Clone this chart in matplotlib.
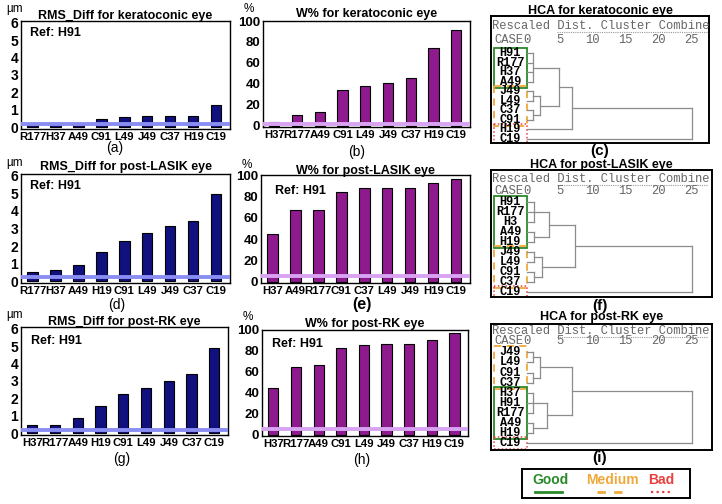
import matplotlib
matplotlib.use('Agg')
import matplotlib.pyplot as plt
from matplotlib.patches import Rectangle

plt.rcParams['font.family'] = ['Liberation Sans', 'DejaVu Sans']

# ---- bar chart data ----
rms_kc_labels = ['R177', 'H37', 'A49', 'C91', 'L49', 'J49', 'C37', 'H19', 'C19']
rms_kc_values = [0.15, 0.17, 0.17, 0.45, 0.57, 0.62, 0.62, 0.67, 1.25]
rms_kc_ref = 0.2

w_kc_labels = ['H37', 'R177', 'A49', 'C91', 'L49', 'J49', 'C37', 'H19', 'C19']
w_kc_values = [3.7, 10.2, 13.6, 34.7, 37.8, 40.9, 46.1, 74.3, 91.6]
w_kc_ref = 2.3

rms_lasik_labels = ['R177', 'H37', 'A49', 'H19', 'C91', 'L49', 'J49', 'C37', 'C19']
rms_lasik_values = [0.5, 0.62, 0.9, 1.67, 2.31, 2.72, 3.13, 3.43, 4.99]
rms_lasik_ref = 0.24

w_lasik_labels = ['H37', 'A49', 'R177', 'C91', 'C37', 'L49', 'J49', 'H19', 'C19']
w_lasik_values = [45.2, 67.7, 67.7, 83.7, 88.0, 88.0, 88.0, 92.3, 96.6]
w_lasik_ref = 6.0

rms_rk_labels = ['H37', 'R177', 'A49', 'H19', 'C91', 'L49', 'J49', 'C37', 'C19']
rms_rk_values = [0.5, 0.5, 0.86, 1.58, 2.25, 2.61, 3.0, 3.43, 4.88]
rms_rk_ref = 0.19

w_rk_labels = ['H37', 'R177', 'A49', 'C91', 'L49', 'J49', 'C37', 'H19', 'C19']
w_rk_values = [44.7, 65.2, 66.5, 82.6, 85.4, 86.6, 86.6, 90.7, 97.5]
w_rk_ref = 6.0

# ---- HCA trees: (children, rescaled distance) ----
tree_kc = ([([([(['H91', 'R177', 'H37', 'A49'], 0.9),
                ([(['J49', 'L49'], 0.9), (['C37', 'C91'], 0.9)], 1.9)], 4.9),
              'H19'], 6.8),
            'C19'], 25.0)
groups_kc = [('good', 0, 3), ('medium', 4, 7), ('bad', 8, 9)]

tree_lasik = ([([([(['H91', 'R177', 'H3'], 1.1), (['A49', 'H19'], 1.1)], 3.4),
                 ([(['J49', 'L49'], 1.1), (['C91', 'C37'], 1.1)], 2.3)], 7.3),
               'C19'], 25.0)
groups_lasik = [('good', 0, 4), ('medium', 5, 8), ('bad', 9, 9)]

tree_rk = ([([([(['J49', 'L49'], 0.9), (['C91', 'C37'], 0.9)], 2.0),
              ([(['H37', 'H91', 'R177'], 0.9), (['A49', 'H19'], 0.9)], 3.1)], 6.8),
            'C19'], 25.0)
groups_rk = [('medium', 0, 3), ('good', 4, 8), ('bad', 9, 9)]

dist_ticks = [0, 5, 10, 15, 20, 25]

W, H = 722, 504
fig = plt.figure(figsize=(W / 100, H / 100), dpi=100)

NAVY = '#10107e'
PURPLE = '#8e1a8e'
GRP_STYLE = {'good': dict(edgecolor='#2a8a2a', linestyle='-', linewidth=1.3),
             'medium': dict(edgecolor='#f0a83a', linestyle=(0, (4, 3)), linewidth=1.3),
             'bad': dict(edgecolor='#e84040', linestyle=(0, (1, 1.5)), linewidth=1.1)}


def px_axes(x0, y0, x1, y1):
    return fig.add_axes([x0 / W, 1 - y1 / H, (x1 - x0) / W, (y1 - y0) / H])


def ftext(x, y, s, **kw):
    fig.text(x / W, 1 - y / H, s, **kw)


def bar_panel(box, labels, values, color, ref, ref_color, is_rms, title, title_y,
              unit, unit_y, letter, letter_xy, letter_kw, ref_txt=None):
    ax = px_axes(*box)
    x = range(len(values))
    ax.bar(x, values, width=0.45, color=color, edgecolor='black', linewidth=0.8, zorder=2)
    ax.axhline(ref, color=ref_color, lw=2.8, zorder=3)
    ax.set_xlim(-0.5, len(values) - 0.4)
    if is_rms:
        ax.set_ylim(-0.1, 6.1)
        ax.set_yticks(range(0, 7))
    else:
        ax.set_ylim(-1, 100)
        ax.set_yticks(range(0, 101, 20))
    ax.set_xticks(list(x))
    ax.set_xticklabels(labels, fontsize=8.2, fontweight='bold')
    for t in ax.get_yticklabels():
        t.set_fontweight('bold')
        t.set_fontsize(10 if is_rms else 9.5)
    ax.tick_params(axis='both', length=0, pad=2)
    for s in ax.spines.values():
        s.set_linewidth(1.0)
    if ref_txt is not None:
        ax.text(ref_txt[0], ref_txt[1], 'Ref: H91', transform=ax.transAxes,
                fontsize=9, fontweight='bold', va='center', ha='left')
    ftext((box[0] + box[2]) / 2, title_y, title, ha='center', va='center',
          fontsize=9, fontweight='bold')
    ftext(box[0] - 6 if is_rms else box[0] - 14, unit_y, unit, ha='center', va='center',
          fontsize=8.5)
    ftext(letter_xy[0], letter_xy[1], letter, ha='center', va='center', **letter_kw)
    return ax


def draw_node(ax, node, rows):
    if isinstance(node, str):
        return rows[node], 0.0
    children, dist = node
    pts = [draw_node(ax, c, rows) for c in children]
    for r, d in pts:
        ax.plot([d, dist], [r, r], color='#8c8c8c', lw=0.9)
    rs = [r for r, _ in pts]
    ax.plot([dist, dist], [min(rs), max(rs)], color='#8c8c8c', lw=0.9)
    return (min(rs) + max(rs)) / 2, dist


def leaves_of(node):
    if isinstance(node, str):
        return [node]
    out = []
    for c in node[0]:
        out += leaves_of(c)
    return out


def hca_panel(box, row0, spacing, tree, groups, title, title_y, head_y, case_y, letter,
              letter_y):
    x0, y0, x1, y1 = box
    d0, ppd = 527.0, 6.59
    ax = px_axes(*box)
    ax.set_xlim((x0 - d0) / ppd, (x1 - d0) / ppd)
    ax.set_ylim((y1 - row0) / spacing, (y0 - row0) / spacing)
    ax.set_xticks([])
    ax.set_yticks([])
    for s in ax.spines.values():
        s.set_linewidth(1.4)
    leaves = leaves_of(tree)
    rows = {name: i for i, name in enumerate(leaves)}
    draw_node(ax, tree, rows)
    for name, r in rows.items():
        ax.text(-2.55, r, name, ha='center', va='center', family='Liberation Mono',
                fontweight='bold', fontsize=8.6)
    for kind, a, b in groups:
        ax.add_patch(Rectangle((-5.0, a - 0.6), 5.0, b - a + 1.2, fill=False,
                               **GRP_STYLE[kind]))
    ftext(x0 + 1, head_y, 'Rescaled Dist. Cluster Combine', ha='left', va='center',
          family='Liberation Mono', fontsize=8.7, color='#666666')
    ax_line_y = head_y + 6
    fig.add_artist(plt.Line2D([557 / W, 707 / W], [1 - ax_line_y / H] * 2, color='#999999',
                              lw=0.8, linestyle=(0, (1, 1))))
    ftext(x0 + 3, case_y, 'CASE', ha='left', va='center', family='Liberation Mono',
          fontsize=8.7, color='#666666')
    for d in dist_ticks:
        ftext(d0 + d * ppd, case_y, str(d), ha='center', va='center',
              family='Liberation Mono', fontsize=8.7, color='#666666')
    ftext((x0 + x1) / 2, title_y, title, ha='center', va='center', fontsize=9,
          fontweight='bold')
    ftext(600, letter_y, letter, ha='center', va='center', fontsize=11, fontweight='bold')
    return ax


small = dict(fontsize=10)
big = dict(fontsize=11.5, fontweight='bold')

# row 1
bar_panel((21, 21, 230, 129), rms_kc_labels, rms_kc_values, NAVY, rms_kc_ref, '#8a8ef2',
          True, 'RMS_Diff for keratoconic eye', 15.5, 'µm', 9, '(a)', (115, 148), small,
          ref_txt=(0.045, 0.89))
bar_panel((263, 21, 470, 127), w_kc_labels, w_kc_values, PURPLE, w_kc_ref, '#d8a4f2',
          False, 'W% for keratoconic eye', 14, '%', 9, '(b)', (357, 152), small)
hca_panel((491, 16, 709, 143), 53.3, 9.52, tree_kc, groups_kc, 'HCA for keratoconic eye',
          11, 26, 40, '(c)', 151)

# row 2
bar_panel((21, 174, 230, 283), rms_lasik_labels, rms_lasik_values, NAVY, rms_lasik_ref,
          '#8a8ef2', True, 'RMS_Diff for post-LASIK eye', 167.5, 'µm', 163, '(d)',
          (117, 305), small, ref_txt=(0.045, 0.89))
bar_panel((261, 175, 470, 283), w_lasik_labels, w_lasik_values, PURPLE, w_lasik_ref,
          '#d8a4f2', False, 'W% for post-LASIK eye', 171, '%', 165, '(e)', (362, 305), big,
          ref_txt=(0.067, 0.855))
hca_panel((491, 170, 712, 297), 202.3, 9.93, tree_lasik, groups_lasik,
          'HCA for post-LASIK eye', 165, 179, 191.5, '(f)', 306)

# row 3
bar_panel((21, 327, 228, 435), rms_rk_labels, rms_rk_values, NAVY, rms_rk_ref, '#8a8ef2',
          True, 'RMS_Diff for post-RK eye', 321.5, 'µm', 315, '(g)', (122, 459), small,
          ref_txt=(0.05, 0.87))
bar_panel((262, 330, 468, 436), w_rk_labels, w_rk_values, PURPLE, w_rk_ref, '#d8a4f2',
          False, 'W% for post-RK eye', 323.5, '%', 317, '(h)', (362, 460), small,
          ref_txt=(0.05, 0.87))
hca_panel((491, 324, 712, 450), 352.3, 10.1, tree_rk, groups_rk, 'HCA for post-RK eye',
          317, 331, 341.5, '(i)', 458)

# legend box
lg = px_axes(522, 469, 690, 498)
lg.set_xlim(522, 690)
lg.set_ylim(498, 469)
lg.set_xticks([])
lg.set_yticks([])
for s in lg.spines.values():
    s.set_linewidth(1.4)
lg.text(550, 480, 'Good', color='#2a8a2a', fontsize=10, fontweight='bold', ha='center', va='center')
lg.plot([535, 562], [491.5, 491.5], color='#2a8a2a', lw=2)
lg.text(612, 480, 'Medium', color='#f0a83a', fontsize=10, fontweight='bold', ha='center', va='center')
lg.plot([597, 623], [491.5, 491.5], color='#f0a83a', lw=2, linestyle=(0, (3, 3)))
lg.text(661, 480, 'Bad', color='#e84040', fontsize=10, fontweight='bold', ha='center', va='center')
lg.plot([651, 673], [491.5, 491.5], color='#e84040', lw=1.6, linestyle=(0, (1, 1.5)))

fig.savefig('out.png', dpi=100)
